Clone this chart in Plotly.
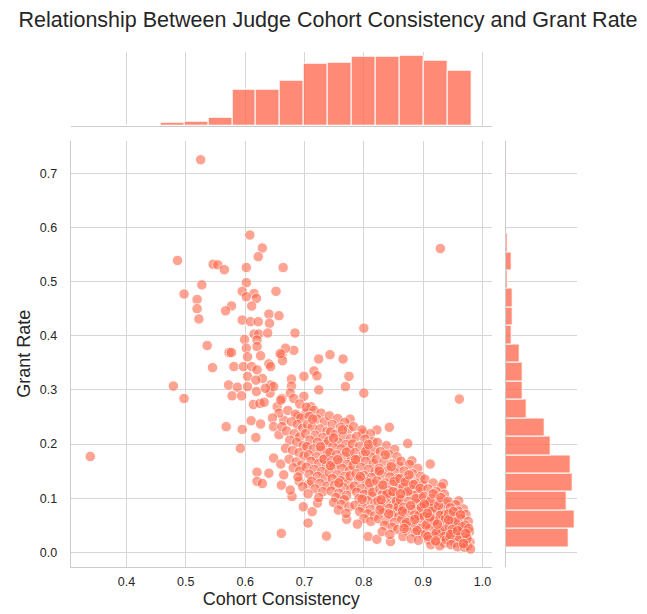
import plotly.graph_objects as go

# ---------------- text ----------------
title_text = "Relationship Between Judge Cohort Consistency and Grant Rate"
x_label = "Cohort Consistency"
y_label = "Grant Rate"
x_tick_values = [0.4, 0.5, 0.6, 0.7, 0.8, 0.9, 1.0]
x_tick_labels = ["0.4", "0.5", "0.6", "0.7", "0.8", "0.9", "1.0"]
y_tick_values = [0.0, 0.1, 0.2, 0.3, 0.4, 0.5, 0.6, 0.7]
y_tick_labels = ["0.0", "0.1", "0.2", "0.3", "0.4", "0.5", "0.6", "0.7"]

# ---------------- marginal histograms (bin start, bin width, counts) ----------------
x_bin_start = 0.3366
x_bin_width = 0.04028
x_bin_counts = [0, 0, 0, 3, 4, 7, 31, 31, 39, 53, 54, 59, 59, 60, 56, 47]

y_bin_start = 0.0092
y_bin_width = 0.03409
y_bin_counts = [63, 69, 61, 67, 65, 45, 39, 21, 17, 17, 14, 6, 7, 7, 2, 6, 2, 0, 0, 0, 1]

# ---------------- scatter points (cohort consistency, grant rate) ----------------
outlier_points = [(0.525, 0.725), (0.339, 0.177), (0.929, 0.561), (0.961, 0.283),
                  (0.800, 0.414), (0.800, 0.294)]

upper_points = [
    (0.608, 0.586), (0.629, 0.562), (0.622, 0.546), (0.486, 0.539), (0.546, 0.532), (0.554, 0.531),
    (0.565, 0.522), (0.602, 0.526), (0.664, 0.526), (0.527, 0.494), (0.602, 0.498), (0.497, 0.477),
    (0.595, 0.482), (0.615, 0.478), (0.602, 0.472), (0.619, 0.469), (0.652, 0.482), (0.519, 0.467),
    (0.519, 0.450), (0.522, 0.431), (0.577, 0.455), (0.567, 0.446), (0.611, 0.455), (0.595, 0.429),
    (0.609, 0.426), (0.622, 0.426), (0.640, 0.440), (0.657, 0.437), (0.641, 0.423), (0.615, 0.403),
    (0.623, 0.403), (0.638, 0.405), (0.684, 0.405), (0.599, 0.393), (0.620, 0.392), (0.602, 0.377),
    (0.620, 0.380), (0.536, 0.382), (0.573, 0.369), (0.577, 0.369), (0.604, 0.361), (0.626, 0.363),
    (0.662, 0.365), (0.682, 0.373), (0.668, 0.377), (0.640, 0.348), (0.643, 0.343), (0.581, 0.343),
    (0.597, 0.343), (0.611, 0.343), (0.620, 0.337), (0.604, 0.325), (0.545, 0.341), (0.629, 0.321),
    (0.699, 0.325), (0.716, 0.335), (0.721, 0.326), (0.678, 0.320), (0.663, 0.354), (0.659, 0.367),
    (0.724, 0.357), (0.743, 0.365), (0.765, 0.357), (0.775, 0.325), (0.769, 0.306),
]

middle_points = [
    (0.479, 0.307), (0.497, 0.284), (0.572, 0.309), (0.587, 0.305), (0.578, 0.289), (0.594, 0.289),
    (0.619, 0.297), (0.614, 0.273), (0.625, 0.275), (0.632, 0.277), (0.643, 0.309), (0.642, 0.294),
    (0.678, 0.307), (0.676, 0.294), (0.662, 0.284), (0.682, 0.284), (0.699, 0.288), (0.692, 0.274),
    (0.711, 0.269), (0.724, 0.300), (0.648, 0.306), (0.654, 0.269), (0.660, 0.281), (0.702, 0.257),
    (0.689, 0.251), (0.665, 0.244), (0.657, 0.257), (0.604, 0.306), (0.618, 0.318), (0.634, 0.303),
    (0.568, 0.232), (0.595, 0.227), (0.592, 0.192), (0.610, 0.243), (0.626, 0.237), (0.618, 0.212),
    (0.646, 0.248), (0.648, 0.232), (0.657, 0.217), (0.662, 0.232),
]

lower_points = [
    (0.620, 0.148), (0.648, 0.174), (0.660, 0.163), (0.640, 0.146), (0.620, 0.131), (0.629, 0.127),
    (0.661, 0.124), (0.679, 0.103), (0.661, 0.035), (0.706, 0.054), (0.698, 0.084), (0.713, 0.075),
    (0.722, 0.091), (0.737, 0.030), (0.771, 0.061), (0.807, 0.029), (0.822, 0.024), (0.845, 0.020),
    (0.691, 0.131), (0.707, 0.126),
]

band_edge_points = [
    (0.777, 0.246), (0.799, 0.220), (0.822, 0.226), (0.843, 0.231), (0.874, 0.201), (0.881, 0.169),
    (0.912, 0.163), (0.934, 0.127), (0.960, 0.095),
]

band_066 = [
    (0.672, 0.262), (0.685, 0.255), (0.694, 0.248), (0.678, 0.241), (0.688, 0.236), (0.697, 0.229),
    (0.670, 0.224), (0.683, 0.219), (0.692, 0.213), (0.675, 0.207), (0.687, 0.203), (0.698, 0.197),
    (0.668, 0.192), (0.680, 0.188), (0.691, 0.184), (0.699, 0.178), (0.674, 0.172), (0.686, 0.167),
    (0.695, 0.161), (0.681, 0.156), (0.692, 0.150), (0.665, 0.143), (0.689, 0.139), (0.697, 0.121),
    (0.676, 0.115),
]

band_070 = [
    (0.703, 0.268), (0.716, 0.262), (0.728, 0.257), (0.708, 0.251), (0.721, 0.246), (0.734, 0.241),
    (0.705, 0.236), (0.713, 0.231), (0.726, 0.228), (0.738, 0.224), (0.702, 0.219), (0.718, 0.216),
    (0.731, 0.212), (0.709, 0.207), (0.722, 0.203), (0.735, 0.199), (0.704, 0.195), (0.715, 0.191),
    (0.728, 0.188), (0.739, 0.184), (0.707, 0.180), (0.720, 0.176), (0.732, 0.172), (0.711, 0.168),
    (0.724, 0.164), (0.737, 0.160), (0.703, 0.157), (0.716, 0.153), (0.729, 0.149), (0.708, 0.144),
    (0.722, 0.140), (0.735, 0.136), (0.712, 0.131), (0.726, 0.127), (0.738, 0.122), (0.718, 0.117),
    (0.731, 0.112), (0.706, 0.108), (0.724, 0.101), (0.733, 0.172), (0.714, 0.246), (0.727, 0.195),
]

band_074 = [
    (0.742, 0.252), (0.756, 0.247), (0.768, 0.240), (0.747, 0.236), (0.761, 0.231), (0.774, 0.227),
    (0.744, 0.222), (0.752, 0.218), (0.765, 0.214), (0.778, 0.210), (0.741, 0.206), (0.757, 0.203),
    (0.770, 0.199), (0.748, 0.195), (0.762, 0.191), (0.776, 0.188), (0.743, 0.184), (0.754, 0.180),
    (0.767, 0.177), (0.779, 0.173), (0.746, 0.169), (0.759, 0.166), (0.772, 0.162), (0.750, 0.158),
    (0.763, 0.155), (0.776, 0.151), (0.742, 0.147), (0.755, 0.143), (0.768, 0.140), (0.747, 0.136),
    (0.761, 0.132), (0.774, 0.128), (0.751, 0.124), (0.765, 0.120), (0.778, 0.117), (0.745, 0.113),
    (0.758, 0.109), (0.771, 0.105), (0.753, 0.101), (0.767, 0.097), (0.749, 0.092), (0.762, 0.088),
    (0.775, 0.084), (0.757, 0.078), (0.770, 0.072), (0.744, 0.160), (0.771, 0.185), (0.758, 0.128),
    (0.777, 0.141), (0.749, 0.211), (0.764, 0.226), (0.756, 0.171),
]

band_078 = [
    (0.783, 0.232), (0.797, 0.226), (0.811, 0.219), (0.788, 0.214), (0.802, 0.209), (0.815, 0.204),
    (0.781, 0.200), (0.793, 0.196), (0.806, 0.192), (0.818, 0.188), (0.785, 0.184), (0.799, 0.180),
    (0.812, 0.176), (0.790, 0.171), (0.803, 0.168), (0.816, 0.164), (0.782, 0.160), (0.795, 0.157),
    (0.808, 0.153), (0.819, 0.149), (0.787, 0.145), (0.800, 0.142), (0.813, 0.138), (0.791, 0.134),
    (0.804, 0.130), (0.817, 0.126), (0.784, 0.122), (0.796, 0.118), (0.809, 0.115), (0.788, 0.111),
    (0.801, 0.107), (0.814, 0.103), (0.792, 0.099), (0.806, 0.095), (0.819, 0.091), (0.785, 0.087),
    (0.798, 0.083), (0.811, 0.079), (0.793, 0.075), (0.807, 0.071), (0.818, 0.067), (0.800, 0.062),
    (0.812, 0.057), (0.789, 0.052), (0.803, 0.186), (0.794, 0.140), (0.810, 0.128), (0.786, 0.171),
    (0.815, 0.111), (0.797, 0.098), (0.808, 0.199),
]

band_082 = [
    (0.823, 0.203), (0.838, 0.197), (0.852, 0.190), (0.828, 0.186), (0.842, 0.181), (0.856, 0.176),
    (0.821, 0.171), (0.834, 0.167), (0.847, 0.163), (0.859, 0.159), (0.826, 0.155), (0.840, 0.151),
    (0.853, 0.147), (0.830, 0.143), (0.844, 0.139), (0.857, 0.136), (0.822, 0.132), (0.836, 0.128),
    (0.849, 0.125), (0.860, 0.121), (0.827, 0.117), (0.841, 0.114), (0.854, 0.110), (0.831, 0.106),
    (0.845, 0.103), (0.858, 0.099), (0.824, 0.095), (0.837, 0.092), (0.850, 0.088), (0.829, 0.084),
    (0.843, 0.081), (0.856, 0.077), (0.833, 0.073), (0.847, 0.069), (0.859, 0.066), (0.825, 0.062),
    (0.839, 0.058), (0.852, 0.055), (0.835, 0.050), (0.848, 0.046), (0.857, 0.042), (0.831, 0.038),
    (0.844, 0.033), (0.826, 0.150), (0.851, 0.131), (0.839, 0.108), (0.855, 0.095), (0.832, 0.124),
    (0.846, 0.158), (0.829, 0.097), (0.842, 0.071), (0.858, 0.084), (0.836, 0.180), (0.849, 0.112),
    (0.827, 0.078),
]

band_086 = [
    (0.863, 0.168), (0.877, 0.162), (0.891, 0.155), (0.868, 0.150), (0.882, 0.145), (0.896, 0.140),
    (0.861, 0.136), (0.874, 0.132), (0.887, 0.128), (0.899, 0.124), (0.866, 0.120), (0.880, 0.116),
    (0.893, 0.112), (0.870, 0.108), (0.884, 0.105), (0.897, 0.101), (0.862, 0.097), (0.876, 0.094),
    (0.889, 0.090), (0.900, 0.086), (0.867, 0.083), (0.881, 0.079), (0.894, 0.076), (0.871, 0.072),
    (0.885, 0.069), (0.898, 0.065), (0.864, 0.061), (0.878, 0.058), (0.891, 0.054), (0.869, 0.051),
    (0.883, 0.047), (0.896, 0.044), (0.873, 0.040), (0.887, 0.036), (0.899, 0.033), (0.866, 0.029),
    (0.880, 0.025), (0.892, 0.022), (0.874, 0.113), (0.888, 0.099), (0.865, 0.076), (0.879, 0.086),
    (0.893, 0.068), (0.870, 0.130), (0.884, 0.125), (0.897, 0.083), (0.872, 0.055), (0.886, 0.061),
    (0.862, 0.108), (0.890, 0.040), (0.876, 0.143), (0.895, 0.118), (0.868, 0.044),
]

band_090 = [
    (0.903, 0.135), (0.917, 0.128), (0.931, 0.121), (0.908, 0.117), (0.922, 0.112), (0.936, 0.107),
    (0.901, 0.103), (0.914, 0.099), (0.927, 0.095), (0.939, 0.091), (0.906, 0.088), (0.920, 0.084),
    (0.933, 0.080), (0.910, 0.077), (0.924, 0.073), (0.937, 0.070), (0.902, 0.066), (0.916, 0.063),
    (0.929, 0.059), (0.940, 0.056), (0.907, 0.053), (0.921, 0.049), (0.934, 0.046), (0.911, 0.043),
    (0.925, 0.039), (0.938, 0.036), (0.904, 0.033), (0.918, 0.030), (0.931, 0.026), (0.909, 0.023),
    (0.923, 0.020), (0.936, 0.017), (0.913, 0.014), (0.928, 0.012), (0.915, 0.081), (0.929, 0.068),
    (0.905, 0.050), (0.919, 0.058), (0.933, 0.041), (0.912, 0.094), (0.926, 0.087), (0.938, 0.062),
    (0.908, 0.029), (0.922, 0.036), (0.935, 0.029), (0.902, 0.089), (0.917, 0.108), (0.930, 0.101),
    (0.911, 0.065), (0.924, 0.052), (0.939, 0.023), (0.907, 0.072), (0.921, 0.021),
]

band_094 = [
    (0.942, 0.094), (0.955, 0.088), (0.968, 0.080), (0.946, 0.082), (0.959, 0.076), (0.972, 0.070),
    (0.943, 0.071), (0.953, 0.066), (0.964, 0.062), (0.976, 0.057), (0.948, 0.059), (0.960, 0.054),
    (0.971, 0.050), (0.944, 0.048), (0.956, 0.045), (0.967, 0.041), (0.978, 0.038), (0.950, 0.037),
    (0.962, 0.034), (0.973, 0.031), (0.945, 0.028), (0.957, 0.025), (0.969, 0.022), (0.979, 0.019),
    (0.952, 0.018), (0.964, 0.015), (0.975, 0.012), (0.947, 0.014), (0.958, 0.010), (0.970, 0.009),
    (0.980, 0.006), (0.954, 0.056), (0.966, 0.047), (0.949, 0.042), (0.961, 0.028), (0.974, 0.025),
    (0.943, 0.060), (0.977, 0.044), (0.951, 0.075), (0.963, 0.069), (0.946, 0.033), (0.968, 0.016),
    (0.958, 0.040), (0.972, 0.035),
]

all_points = (outlier_points + upper_points + middle_points + lower_points + band_edge_points
              + band_066 + band_070 + band_074 + band_078 + band_082 + band_086 + band_090 + band_094)
cohort_consistency = [p[0] for p in all_points]
grant_rate = [p[1] for p in all_points]

# ---------------- styling / layout ----------------
# the page body adds an 8px margin, so the figure is 8px smaller and all pixel
# positions below are measured from the figure's own top-left corner
W, H = 639, 606
FONT = "Liberation Sans, Arial, sans-serif"
TEXT = "#262626"
GRID = "#d6d6d6"
SPINE = "#cccccc"
POINT_COLOR = "rgb(255,99,71)"
BAR_COLOR = "rgba(255,99,71,0.75)"

main_left, main_right = 62.7, 483.7
main_top, main_bottom = 132.5, 559.0
top_top, top_bottom = 43.7, 118.0
right_left, right_right = 497.7, 569.3


def fx(px):
    return px / W


def fy(py):
    return 1 - py / H


x_centers = [x_bin_start + (i + 0.5) * x_bin_width for i in range(len(x_bin_counts))]
y_centers = [y_bin_start + (i + 0.5) * y_bin_width for i in range(len(y_bin_counts))]

fig = go.Figure()

fig.add_trace(go.Scatter(
    x=cohort_consistency, y=grant_rate, mode="markers",
    marker=dict(size=10.5, color=POINT_COLOR, opacity=0.58,
                line=dict(color="white", width=1)),
    xaxis="x", yaxis="y", showlegend=False, hoverinfo="skip"))

fig.add_trace(go.Bar(
    x=x_centers, y=x_bin_counts, width=[x_bin_width] * len(x_bin_counts),
    marker=dict(color=BAR_COLOR, line=dict(color="white", width=1)),
    xaxis="x2", yaxis="y2", showlegend=False, hoverinfo="skip"))

fig.add_trace(go.Bar(
    y=y_centers, x=y_bin_counts, width=[y_bin_width] * len(y_bin_counts), orientation="h",
    marker=dict(color=BAR_COLOR, line=dict(color="white", width=1)),
    xaxis="x3", yaxis="y3", showlegend=False, hoverinfo="skip"))

x_range = [0.306, 1.0155]
y_range = [-0.0272, 0.7606]

fig.update_layout(
    width=W, height=H,
    margin=dict(l=0, r=0, t=0, b=0),
    paper_bgcolor="white", plot_bgcolor="white",
    font=dict(family=FONT, color=TEXT),
    bargap=0,
    title=dict(text=title_text, x=320 / W, xanchor="center", y=1 - 11 / H, yanchor="middle",
               font=dict(size=21.5, color=TEXT, family=FONT)),
    xaxis=dict(domain=[fx(main_left), fx(main_right)], anchor="y", range=x_range,
               tickvals=x_tick_values, ticktext=x_tick_labels,
               showgrid=True, gridcolor=GRID, gridwidth=1, zeroline=False,
               showline=True, linecolor=SPINE, linewidth=1.2,
               ticks="outside", ticklen=3, tickcolor="rgba(0,0,0,0)",
               tickfont=dict(size=12.5, color=TEXT), automargin=False,
               title=dict(text=x_label, font=dict(size=18, color=TEXT), standoff=0)),
    yaxis=dict(domain=[fy(main_bottom), fy(main_top)], anchor="x", range=y_range,
               tickvals=y_tick_values, ticktext=y_tick_labels,
               showgrid=True, gridcolor=GRID, gridwidth=1, zeroline=False,
               showline=True, linecolor=SPINE, linewidth=1.2,
               ticks="outside", ticklen=10, tickcolor="rgba(0,0,0,0)",
               tickfont=dict(size=12.5, color=TEXT), automargin=False,
               title=dict(text=y_label, font=dict(size=18, color=TEXT), standoff=4)),
    xaxis2=dict(domain=[fx(main_left), fx(main_right)], anchor="y2", matches="x",
                range=x_range, tickvals=x_tick_values, showticklabels=False,
                showgrid=True, gridcolor=GRID, gridwidth=1, zeroline=False,
                showline=True, linecolor=SPINE, linewidth=1.2, ticks=""),
    yaxis2=dict(domain=[fy(top_bottom), fy(top_top)], anchor="x2", range=[0, 63.7],
                showgrid=False, showticklabels=False, zeroline=False, showline=False, ticks=""),
    xaxis3=dict(domain=[fx(right_left), fx(right_right)], anchor="y3", range=[0, 71.4],
                showgrid=False, showticklabels=False, zeroline=False, showline=False, ticks=""),
    yaxis3=dict(domain=[fy(main_bottom), fy(main_top)], anchor="x3", matches="y",
                range=y_range, tickvals=y_tick_values, showticklabels=False,
                showgrid=True, gridcolor=GRID, gridwidth=1, zeroline=False,
                showline=True, linecolor=SPINE, linewidth=1.2, ticks=""),
)

fig.write_html("out.html")
